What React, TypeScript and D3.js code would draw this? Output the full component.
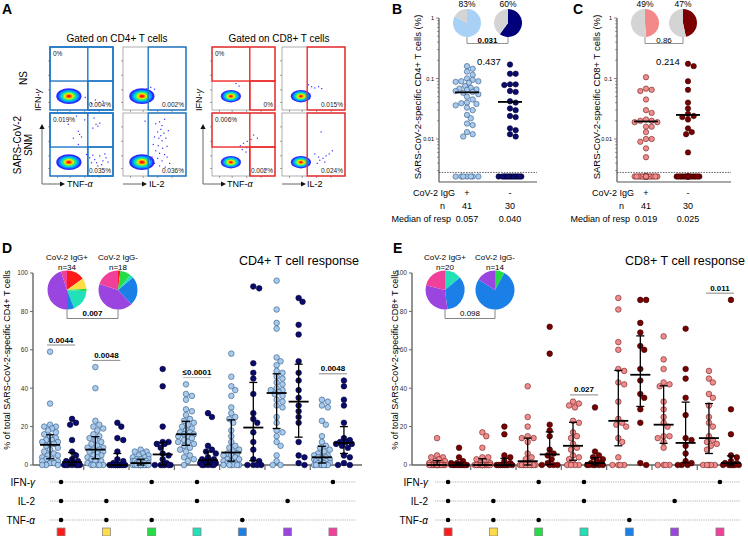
import React from 'react';
import * as d3 from 'd3';

const FONT = '"Liberation Sans", Arial, Helvetica, sans-serif';

// ---------- Panel A: example dot plots ----------
const cd4GateLabels = [['0%', '0.004%', '0.002%'], ['0.019%', '0.035%', '0.036%']];
const cd8GateLabels = [['0%', '0%', '0.015%'], ['0.006%', '0.002%', '0.024%']];
// rare events, as fraction of the plot (x from left, y from bottom)
const cd4NsTnfEvents = [[0.72, 0.16], [0.78, 0.12], [0.66, 0.1], [0.84, 0.14], [0.56, 0.2]];
const cd4NsIl2Events = [[0.38, 0.34], [0.44, 0.36], [0.5, 0.33]];
const cd4SnmTnfEvents = [
  [0.29, 0.82], [0.42, 0.95], [0.45, 0.71], [0.47, 0.66], [0.55, 0.89], [0.6, 0.97], [0.7, 0.92],
  [0.73, 0.82], [0.76, 0.79], [0.79, 0.84], [0.68, 0.76], [0.37, 0.6], [0.45, 0.5], [0.5, 0.62],
  [0.63, 0.29], [0.71, 0.26], [0.74, 0.21], [0.79, 0.32], [0.84, 0.24], [0.89, 0.29], [0.76, 0.16],
  [0.66, 0.21], [0.58, 0.34], [0.6, 0.16], [0.82, 0.18], [0.68, 0.33], [0.87, 0.35], [0.92, 0.22],
];
const cd4SnmIl2Events = [
  [0.52, 0.83], [0.58, 0.86], [0.62, 0.8], [0.6, 0.74], [0.55, 0.7], [0.65, 0.68], [0.5, 0.62],
  [0.57, 0.6], [0.62, 0.56], [0.68, 0.6], [0.48, 0.5], [0.56, 0.48], [0.63, 0.44], [0.7, 0.47],
  [0.52, 0.4], [0.58, 0.36], [0.66, 0.34], [0.46, 0.3], [0.55, 0.28], [0.62, 0.24], [0.7, 0.3],
  [0.5, 0.2], [0.58, 0.16], [0.67, 0.14], [0.74, 0.2], [0.44, 0.26], [0.6, 0.64], [0.66, 0.9],
  [0.35, 0.87], [0.72, 0.72],
];
const cd8NsTnfEvents = [[0.43, 0.38], [0.38, 0.42]];
const cd8NsIl2Events = [[0.42, 0.4], [0.47, 0.37], [0.52, 0.35], [0.58, 0.37], [0.63, 0.34]];
const cd8SnmTnfEvents = [
  [0.45, 0.48], [0.5, 0.52], [0.56, 0.55], [0.62, 0.58], [0.66, 0.65], [0.55, 0.45], [0.48, 0.42],
  [0.6, 0.46], [0.72, 0.6], [0.84, 0.1], [0.54, 0.38],
];
const cd8SnmIl2Events = [
  [0.62, 0.7], [0.52, 0.35], [0.58, 0.3], [0.6, 0.25], [0.65, 0.28], [0.7, 0.32], [0.75, 0.35],
  [0.8, 0.4], [0.56, 0.2], [0.68, 0.22],
];

// ---------- Panels B/C: total response (% of CD4 / CD8), zeros = non responders ----------
const igGroups = ['+', '-'];
const donorsN = [41, 30];
const cd4TotalPos = [
  0.16, 0.145, 0.13, 0.115, 0.1, 0.095, 0.09, 0.09, 0.088, 0.085, 0.075, 0.07, 0.068, 0.066, 0.065,
  0.062, 0.06, 0.058, 0.055, 0.05, 0.045, 0.04, 0.039, 0.038, 0.036, 0.033, 0.03, 0.025, 0.022,
  0.018, 0.017, 0.013, 0.012, 0.011, 0, 0, 0, 0, 0, 0, 0,
];
const cd4TotalNeg = [
  0.17, 0.12, 0.12, 0.08, 0.08, 0.078, 0.062, 0.06, 0.042, 0.04, 0.032, 0.03, 0.024, 0.023, 0.015,
  0.014, 0.011, 0.012, 0, 0, 0, 0, 0, 0, 0, 0, 0, 0, 0, 0,
];
const cd8TotalPos = [
  0.105, 0.068, 0.065, 0.062, 0.045, 0.03, 0.027, 0.021, 0.02, 0.02, 0.019, 0.019, 0.016, 0.016,
  0.013, 0.01, 0.01, 0.009, 0.007, 0.005, 0, 0, 0, 0, 0, 0, 0, 0, 0, 0, 0, 0, 0, 0, 0, 0, 0, 0, 0, 0, 0,
];
const cd8TotalNeg = [
  0.175, 0.16, 0.09, 0.065, 0.04, 0.032, 0.026, 0.024, 0.023, 0.021, 0.015, 0.013, 0.012, 0.006,
  0, 0, 0, 0, 0, 0, 0, 0, 0, 0, 0, 0, 0, 0, 0, 0,
];
const cd4MedianLabels = ['0.057', '0.040'];
const cd8MedianLabels = ['0.019', '0.025'];
const detectionLimit = 0.0028;
const zeroDrawValue = 0.0024;

// ---------- Panels D/E: polyfunctionality, % of total specific response ----------
const comboColors = ['#ff1a1a', '#ffdc45', '#22dd44', '#22e0b8', '#1a80e8', '#9b45e0', '#f0409a'];
const comboIFN = [1, 0, 1, 1, 0, 0, 1];
const comboIL2 = [1, 1, 0, 1, 0, 1, 0];
const comboTNF = [1, 1, 1, 0, 1, 0, 0];

const cd4PolyPos = [
  [59, 32, 21, 20, 20, 19, 18, 17, 16, 15, 14, 13, 13, 12, 12, 11, 11, 10, 9, 8, 7, 6, 5, 5, 4, 3, 3, 2, 2, 1, 1, 0, 0, 0],
  [51, 40, 23, 21, 20, 19, 18, 16, 15, 14, 13, 12, 11, 10, 9, 9, 8, 8, 7, 7, 6, 5, 5, 4, 4, 3, 2, 2, 1, 0, 0, 0, 0, 0],
  [8, 7, 7, 6, 5, 5, 4, 4, 3, 3, 3, 2, 2, 2, 2, 2, 1, 1, 1, 1, 1, 1, 0, 0, 0, 0, 0, 0, 0, 0, 0, 0, 0, 0],
  [42, 37, 36, 34, 29, 28, 26, 24, 23, 22, 21, 20, 19, 18, 17, 17, 16, 16, 15, 15, 14, 13, 12, 12, 11, 10, 9, 8, 7, 5, 4, 3, 2, 0],
  [58, 46, 41, 39, 36, 30, 27, 25, 24, 22, 18, 15, 12, 10, 9, 8, 7, 6, 6, 5, 5, 4, 3, 3, 2, 2, 1, 1, 0, 0, 0, 0, 0, 0],
  [96, 81, 74, 71, 56, 54, 52, 49, 48, 46, 45, 43, 42, 40, 39, 39, 38, 37, 36, 34, 33, 31, 30, 25, 22, 18, 17, 15, 12, 10, 5, 2, 0, 0],
  [34, 33, 31, 30, 23, 21, 15, 12, 10, 9, 8, 7, 6, 5, 5, 4, 4, 4, 3, 3, 3, 2, 2, 2, 1, 1, 1, 0, 0, 0, 0, 0, 0, 0],
];
const cd4PolyNeg = [
  [24, 22, 21, 13, 7, 5, 3, 2, 2, 1, 1, 0, 0, 0, 0, 0, 0, 0],
  [22, 20, 14, 13, 7, 3, 2, 1, 0, 0, 0, 0, 0, 0, 0, 0, 0, 0],
  [50, 41, 20, 12, 12, 11, 11, 9, 6, 5, 3, 1, 0, 0, 0, 0, 0, 0],
  [27, 25, 10, 8, 7, 6, 4, 3, 3, 2, 2, 1, 1, 0, 0, 0, 0, 0],
  [93, 92, 53, 48, 45, 37, 27, 24, 22, 17, 12, 8, 3, 2, 0, 0, 0, 0],
  [87, 85, 73, 68, 54, 48, 44, 39, 35, 31, 28, 25, 22, 12, 5, 4, 1, 0],
  [44, 41, 34, 31, 22, 14, 13, 12, 12, 11, 11, 10, 9, 5, 4, 1, 0, 0],
];
const cd8PolyPos = [
  [14, 5, 4, 4, 3, 2, 2, 1, 1, 0, 0, 0, 0, 0, 0, 0, 0, 0, 0, 0],
  [17, 15, 9, 4, 4, 3, 2, 1, 1, 0, 0, 0, 0, 0, 0, 0, 0, 0, 0, 0],
  [41, 25, 20, 15, 14, 14, 12, 6, 4, 3, 1, 0, 0, 0, 0, 0, 0, 0, 0, 0],
  [33, 32, 31, 30, 23, 22, 17, 15, 14, 11, 9, 8, 5, 4, 3, 1, 0, 0, 0, 0],
  [87, 81, 64, 60, 50, 49, 43, 42, 33, 24, 22, 21, 20, 14, 12, 4, 0, 0, 0, 0],
  [67, 55, 50, 43, 42, 41, 33, 29, 25, 22, 20, 15, 15, 14, 12, 9, 0, 0, 0, 0],
  [49, 45, 43, 37, 35, 31, 25, 22, 20, 15, 13, 12, 11, 10, 8, 0, 0, 0, 0, 0],
];
const cd8PolyNeg = [
  [9, 4, 2, 1, 1, 0, 0, 0, 0, 0, 0, 0, 0, 0],
  [20, 16, 5, 4, 2, 1, 0, 0, 0, 0, 0, 0, 0, 0],
  [72, 58, 21, 18, 15, 8, 6, 5, 3, 1, 0, 0, 0, 0],
  [30, 7, 5, 4, 3, 2, 1, 1, 0, 0, 0, 0, 0, 0],
  [86, 86, 74, 69, 62, 60, 50, 44, 37, 35, 29, 22, 1, 0],
  [71, 50, 45, 35, 26, 14, 13, 10, 6, 2, 1, 0, 0, 0],
  [86, 29, 16, 5, 4, 2, 1, 1, 0, 0, 0, 0, 0, 0],
];
// pie composition (% of responders by profile)
const cd4PiePos = [15, 9, 2, 18, 6, 45, 5];
const cd4PieNeg = [2, 0, 9, 3, 24, 42, 20];
const cd8PiePos = [0, 0, 0, 14, 34, 31, 21];
const cd8PieNeg = [0, 0, 8, 0, 76, 16, 0];
const cd4PieN = [34, 18];
const cd8PieN = [20, 14];
const cd4Sig = [{ cat: 0, label: '0.0044' }, { cat: 1, label: '0.0048' }, { cat: 3, label: '≤0.0001', muted: true }, { cat: 6, label: '0.0048' }];
const cd8Sig = [{ cat: 3, label: '0.027' }, { cat: 6, label: '0.011' }];

// ---------- colours ----------
const LIGHT_BLUE = '#a6cbef', NAVY = '#0b0b6e', PINK = '#f28b8b', DARK_RED = '#780000', GREY_PIE = '#d4d4d4';
const blobColors = ['#2a2aff', '#0090ff', '#00d8d0', '#40f060', '#e8f000', '#ff9000', '#ff1010'];
const blobSteps = [1, 0.82, 0.66, 0.52, 0.4, 0.28, 0.16];

type Pt = { x: number; y: number };

// simple beeswarm: place each point at the nearest free horizontal slot
function swarm(values: number[], yOf: (v: number) => number, cx: number, r: number, maxW: number): Pt[] {
  const placed: Pt[] = [];
  const sorted = values.slice().sort((a, b) => b - a);
  const step = r * 0.7;
  const cands: number[] = [0];
  for (let k = 1; k * step <= maxW; k++) cands.push(k * step, -k * step);
  const need = (2 * r * 0.92) ** 2;
  sorted.forEach(v => {
    const y = yOf(v);
    let best = 0, bestD = -1;
    for (const c of cands) {
      let minD = Infinity;
      placed.forEach(p => {
        const dx = p.x - (cx + c), dy = p.y - y;
        minD = Math.min(minD, dx * dx + dy * dy);
      });
      if (minD >= need) { best = c; break; }
      if (minD > bestD) { bestD = minD; best = c; }
    }
    placed.push({ x: cx + best, y });
  });
  return placed;
}

const Greek = ({ base, g }: { base: string; g: string }) => (
  <>{base}<tspan fontStyle="italic">{g}</tspan></>
);

function FlowPlot({ x0, y0, w, h, kind, color, fullFrame, labels, events, blobR }: any) {
  const fx = d3.scaleLinear().domain([0, 1]).range([x0, x0 + w]);
  const fy = d3.scaleLinear().domain([0, 1]).range([y0 + h, y0]);
  const bx = fx(0.3), by = fy(0.22);
  const vx = fx(0.6), hy = fy(0.46);
  const tickF = [0.12, 0.32, 0.55, 0.78];
  return (
    <g>
      <rect x={x0} y={y0} width={w} height={h} fill="#fff" stroke="#999" strokeWidth={0.8} />
      {tickF.map(t => (
        <g key={t}>
          <line x1={x0 - 2} x2={x0} y1={fy(t)} y2={fy(t)} stroke="#666" strokeWidth={0.6} />
          <line x1={fx(t)} x2={fx(t)} y1={y0 + h} y2={y0 + h + 2} stroke="#666" strokeWidth={0.6} />
        </g>
      ))}
      {blobSteps.map((s, i) => (
        <ellipse key={i} cx={bx} cy={by} rx={w * blobR * s} ry={h * blobR * 0.62 * s} fill={blobColors[i]} />
      ))}
      {events.map((e: number[], i: number) => (
        <rect key={i} x={fx(e[0]) - 0.6} y={fy(e[1]) - 0.6} width={1.2} height={1.2} fill="#3030ff" />
      ))}
      {kind === 'quad' ? (
        <g fill="none" stroke={color} strokeWidth={1.4}>
          {fullFrame && <rect x={x0} y={y0} width={w} height={h} />}
          <rect x={x0} y={y0} width={w} height={hy - y0} />
          <line x1={vx} x2={vx} y1={y0} y2={y0 + h} />
          <rect x={vx} y={hy} width={x0 + w - vx} height={y0 + h - hy} />
        </g>
      ) : (
        <rect x={fx(0.4)} y={y0} width={w * 0.6} height={h} fill="none" stroke={color} strokeWidth={1.4} />
      )}
      {kind === 'quad' && (
        <text x={x0 + 3} y={y0 + 9} fontSize={6.5} fill="#222">{labels[0]}</text>
      )}
      <text x={x0 + w - 2} y={y0 + h - 3} fontSize={6.5} fill="#222" textAnchor="end">
        {kind === 'quad' ? labels[1] : labels[2]}
      </text>
    </g>
  );
}

function Arrow({ x1, y1, x2, y2 }: any) {
  const ang = Math.atan2(y2 - y1, x2 - x1);
  const s = 5;
  const p = [
    [x2, y2],
    [x2 - s * Math.cos(ang) + 2.6 * Math.sin(ang), y2 - s * Math.sin(ang) - 2.6 * Math.cos(ang)],
    [x2 - s * Math.cos(ang) - 2.6 * Math.sin(ang), y2 - s * Math.sin(ang) + 2.6 * Math.cos(ang)],
  ];
  return (
    <g>
      <line x1={x1} y1={y1} x2={x2 - s * Math.cos(ang)} y2={y2 - s * Math.sin(ang)} stroke="#666" strokeWidth={1} />
      <polygon points={p.map(q => q.join(',')).join(' ')} fill="#111" />
    </g>
  );
}

function PanelA() {
  const rows = [47, 113];
  const H = 63;
  const cols = [
    { x: 50, kind: 'quad', g: 'cd4' }, { x: 123, kind: 'il2', g: 'cd4' },
    { x: 212, kind: 'quad', g: 'cd8' }, { x: 282, kind: 'il2', g: 'cd8' },
  ];
  const ev: any = {
    cd4: [[cd4NsTnfEvents, cd4NsIl2Events], [cd4SnmTnfEvents, cd4SnmIl2Events]],
    cd8: [[cd8NsTnfEvents, cd8NsIl2Events], [cd8SnmTnfEvents, cd8SnmIl2Events]],
  };
  return (
    <g>
      <text x={2} y={14} fontSize={14} fontWeight="bold">A</text>
      <text x={117} y={42} fontSize={10} textAnchor="middle">Gated on CD4+ T cells</text>
      <text x={279} y={42} fontSize={10} textAnchor="middle">Gated on CD8+ T cells</text>
      <text transform="translate(27,78) rotate(-90)" fontSize={10} textAnchor="middle">NS</text>
      <text transform="translate(21,145) rotate(-90)" fontSize={10} textAnchor="middle">SARS-CoV-2</text>
      <text transform="translate(32,145) rotate(-90)" fontSize={10} textAnchor="middle">SNM</text>
      {rows.map((y, ri) => cols.map((c, ci) => (
        <FlowPlot key={`${ri}-${ci}`} x0={c.x} y0={y} w={63} h={H} kind={c.kind}
          color={c.g === 'cd4' ? '#1f78c8' : '#ee2a2a'} fullFrame={c.g === 'cd4'}
          labels={(c.g === 'cd4' ? cd4GateLabels : cd8GateLabels)[ri]}
          events={ev[c.g][ri][c.kind === 'quad' ? 0 : 1]} blobR={c.g === 'cd4' ? 0.2 : 0.16} />
      )))}
      {[{ ax: 42, tx: 67 }, { ax: 203, tx: 227 }].map((a, i) => (
        <g key={i} fontSize={9}>
          <Arrow x1={a.ax} y1={184} x2={a.ax} y2={124} />
          <Arrow x1={a.ax} y1={184} x2={a.ax + 23} y2={184} />
          <text x={a.tx} y={187}><Greek base="TNF-" g="α" /></text>
          <text transform={`translate(${a.ax - 1},100) rotate(-90)`} textAnchor="middle"><Greek base="IFN-" g="γ" /></text>
        </g>
      ))}
      {[{ x: 123, tx: 149 }, { x: 282, tx: 307 }].map((a, i) => (
        <g key={i} fontSize={9}>
          <Arrow x1={a.x} y1={184} x2={a.x + 24} y2={184} />
          <text x={a.tx} y={187}>IL-2</text>
        </g>
      ))}
    </g>
  );
}

function pieArcs(vals: number[], r: number) {
  const pie = d3.pie<number>().sort(null).value(d => d);
  const arc = d3.arc<d3.PieArcDatum<number>>().innerRadius(0).outerRadius(r);
  return pie(vals).map(a => ({ d: arc(a) as string, i: a.index }));
}

function LogPanel(p: any) {
  const y = d3.scaleLog().domain([0.01, 1]).range([139, 18]);
  const yAxis = d3.scaleLog().domain([0.002, 1]);
  const yOf = (v: number) => (v > 0 ? y(v) : y(zeroDrawValue));
  const r = 2.7;
  const groups = [p.pos, p.neg];
  const pieR = 14;
  return (
    <g>
      <text x={p.letterX} y={14} fontSize={14} fontWeight="bold">{p.letter}</text>
      <text transform={`translate(${p.yLabelX},97) rotate(-90)`} fontSize={9.5} textAnchor="middle">{p.yLabel}</text>
      {/* axes */}
      <line x1={p.axisX} x2={p.axisX} y1={18} y2={182} stroke="#555" strokeWidth={1.2} />
      <line x1={p.axisX} x2={p.axisR} y1={182} y2={182} stroke="#555" strokeWidth={1.2} />
      {yAxis.ticks().filter(t => t >= 0.0029).map((t, i) => {
        const major = [1, 0.1, 0.01].some(m => Math.abs(m - t) < 1e-9);
        return (
          <g key={i}>
            <line x1={p.axisX - (major ? 3 : 1.8)} x2={p.axisX} y1={y(t)} y2={y(t)} stroke="#555" strokeWidth={0.7} />
            {major && <text x={p.axisX - 5} y={y(t) + 2} fontSize={5.5} textAnchor="end">{String(t)}</text>}
          </g>
        );
      })}
      <line x1={p.axisX} x2={p.axisR} y1={y(detectionLimit)} y2={y(detectionLimit)} stroke="#222" strokeWidth={0.7} strokeDasharray="1.5,1.2" />
      {groups.map((vals: number[], gi: number) => {
        const pts = swarm(vals, yOf, p.centers[gi], r, 12);
        const posVals = vals.filter(v => v > 0);
        const med = d3.median(posVals) as number;
        return (
          <g key={gi}>
            {pts.map((q, i) => (
              <circle key={i} cx={q.x} cy={q.y} r={r} fill={p.fills[gi]} stroke={p.strokes[gi]} strokeWidth={0.6} />
            ))}
            <line x1={p.centers[gi] - 12} x2={p.centers[gi] + 12} y1={y(med)} y2={y(med)} stroke="#000" strokeWidth={1.8} />
          </g>
        );
      })}
      <text x={p.midX} y={65} fontSize={9.5} textAnchor="middle">{p.groupP}</text>
      {/* pies */}
      {groups.map((vals: number[], gi: number) => {
        const pct = vals.filter(v => v > 0).length / vals.length;
        return (
          <g key={gi} transform={`translate(${p.pieCx[gi]},23)`}>
            {pieArcs([pct, 1 - pct], pieR).map(a => (
              <path key={a.i} d={a.d} fill={a.i === 0 ? p.pieColors[gi] : GREY_PIE} />
            ))}
            <text y={-16} fontSize={8.5} textAnchor="middle">{Math.round(pct * 100)}%</text>
          </g>
        );
      })}
      <path d={`M${p.pieCx[0]},37V43.5H${p.pieCx[1]}V37`} fill="none" stroke="#777" strokeWidth={0.8} />
      <text x={(p.pieCx[0] + p.pieCx[1]) / 2} y={42.5} fontSize={8} textAnchor="middle" fontWeight={p.pieBold ? 'bold' : 'normal'}>{p.pieP}</text>
      {/* table under axis */}
      <g fontSize={9}>
        <text x={p.tableR + 6} y={196} textAnchor="end">CoV-2 IgG</text>
        <text x={p.tableR - 4} y={209} textAnchor="end">n</text>
        <text x={p.tableR + 2} y={222} textAnchor="end">Median of resp</text>
        {igGroups.map((g, gi) => (
          <g key={g} textAnchor="middle">
            <text x={p.centers[gi]} y={196}>{g}</text>
            <text x={p.centers[gi]} y={209}>{donorsN[gi]}</text>
            <text x={p.centers[gi]} y={222}>{p.medianLabels[gi]}</text>
          </g>
        ))}
      </g>
    </g>
  );
}

function PolyPanel(p: any) {
  const y = d3.scaleLinear().domain([0, 100]).range([465, 273]);
  const band = d3.scaleBand<number>().domain(d3.range(7)).range([p.bandL, p.bandR]);
  const cx = (i: number) => (band(i) as number) + band.bandwidth() / 2;
  const off = 11;
  const r = 2.8;
  const groups = [p.pos, p.neg];
  const pieR = 19.5;
  const pieCy = 290;
  const rowY = [482, 501, 520];
  const rowSets = [comboIFN, comboIL2, comboTNF];
  return (
    <g>
      <text x={p.letterX} y={253} fontSize={14} fontWeight="bold">{p.letter}</text>
      <text transform={`translate(${p.yLabelX},360) rotate(-90)`} fontSize={9} textAnchor="middle">{p.yLabel}</text>
      <text x={p.titleX} y={265} fontSize={12.5} textAnchor="middle">{p.title}</text>
      {/* axes */}
      <line x1={p.axisX} x2={p.axisX} y1={273} y2={465} stroke="#666" strokeWidth={1.4} />
      <line x1={p.axisX} x2={p.axisR} y1={465} y2={465} stroke="#666" strokeWidth={1.4} />
      {y.ticks(5).map(t => (
        <g key={t}>
          <line x1={p.axisX - 3} x2={p.axisX} y1={y(t)} y2={y(t)} stroke="#666" strokeWidth={1} />
          <text x={p.axisX - 5} y={y(t) + 2.3} fontSize={6.5} textAnchor="end" fill="#333">{t}</text>
        </g>
      ))}
      {d3.range(1, 7).map(i => (
        <line key={i} x1={band(i)} x2={band(i)} y1={465} y2={470} stroke="#666" strokeWidth={1.2} />
      ))}
      {/* points */}
      {groups.map((cats: number[][], gi: number) => cats.map((vals, ci) => {
        const c = cx(ci) + (gi === 0 ? -off : off);
        const pts = swarm(vals, y, c, r, 9);
        return (
          <g key={`${gi}-${ci}`}>
            {pts.map((q, i) => (
              <circle key={i} cx={q.x} cy={q.y} r={r} fill={p.fills[gi]} stroke={p.strokes[gi]} strokeWidth={0.6} />
            ))}
          </g>
        );
      }))}
      {/* median with interquartile range */}
      {groups.map((cats: number[][], gi: number) => cats.map((vals, ci) => {
        const c = cx(ci) + (gi === 0 ? -off : off);
        const s = vals.slice().sort(d3.ascending);
        const med = d3.quantile(s, 0.5) as number, q1 = d3.quantile(s, 0.25) as number, q3 = d3.quantile(s, 0.75) as number;
        return (
          <g key={`e${gi}-${ci}`} stroke="#000">
            <line x1={c} x2={c} y1={y(q1)} y2={y(q3)} strokeWidth={1.3} />
            <line x1={c - 4} x2={c + 4} y1={y(q1)} y2={y(q1)} strokeWidth={1.3} />
            <line x1={c - 4} x2={c + 4} y1={y(q3)} y2={y(q3)} strokeWidth={1.3} />
            <line x1={c - 10} x2={c + 10} y1={y(med)} y2={y(med)} strokeWidth={1.8} />
          </g>
        );
      }))}
      {/* significance */}
      {p.sig.map((s: any) => {
        const top = Math.max(d3.max(p.pos[s.cat] as number[]) as number, d3.max(p.neg[s.cat] as number[]) as number);
        const ly = y(top + 3.5);
        const c = cx(s.cat);
        return (
          <g key={s.cat}>
            <line x1={c - 14} x2={c + 14} y1={ly} y2={ly} stroke={s.muted ? '#bbb' : '#888'} strokeWidth={1} />
            <text x={c} y={ly - 2.5} fontSize={8} fontWeight="bold" textAnchor="middle">{s.label}</text>
          </g>
        );
      })}
      {/* pies */}
      {[p.pieA, p.pieB].map((vals: number[], gi: number) => (
        <g key={gi} transform={`translate(${p.pieCx[gi]},${pieCy})`}>
          {pieArcs(vals, pieR).map(a => <path key={a.i} d={a.d} fill={comboColors[a.i]} />)}
          <text y={-30} fontSize={8} textAnchor="middle">CoV-2 IgG{gi === 0 ? '+' : '-'}</text>
          <text y={-20.5} fontSize={8} textAnchor="middle">n={p.pieN[gi]}</text>
        </g>
      ))}
      <path d={`M${p.pieCx[0]},${pieCy + pieR}V318.5H${p.pieCx[1]}V${pieCy + pieR}`} fill="none" stroke="#777" strokeWidth={0.9} />
      <text x={(p.pieCx[0] + p.pieCx[1]) / 2} y={316} fontSize={8} textAnchor="middle" fontWeight={p.pieBold ? 'bold' : 'normal'}>{p.pieP}</text>
      {/* combination matrix */}
      {rowSets.map((set, ri) => (
        <g key={ri}>
          <line x1={p.matL} x2={p.matR} y1={rowY[ri]} y2={rowY[ri]} stroke="#aaa" strokeWidth={0.9} strokeDasharray="1.2,1" />
          <text x={p.rowLabelX} y={rowY[ri] + 3.5} fontSize={10} textAnchor="end">
            {ri === 0 ? <Greek base="IFN-" g="γ" /> : ri === 1 ? 'IL-2' : <Greek base="TNF-" g="α" />}
          </text>
          {set.map((on, ci) => on ? <circle key={ci} cx={cx(ci)} cy={rowY[ri]} r={2.3} fill="#000" /> : null)}
        </g>
      ))}
      {comboColors.map((col, ci) => (
        <rect key={ci} x={cx(ci) - 4} y={528} width={8} height={8} fill={col} stroke="#888" strokeWidth={0.8} />
      ))}
    </g>
  );
}

export default function App() {
  return (
    <div style={{ position: 'absolute', left: 0, top: 0 }}>
      <svg width={748} height={536} fontFamily={FONT} style={{ display: 'block', background: '#fff' }}>
        <PanelA />
        <LogPanel letter="B" letterX={392} axisX={439} axisR={537} centers={[467, 510]}
          pos={cd4TotalPos} neg={cd4TotalNeg} fills={[LIGHT_BLUE, NAVY]} strokes={['#35557e', '#000030']}
          pieColors={['#a9d0f5', '#00007a']} pieCx={[467, 508]} pieP="0.031" pieBold
          groupP="0.437" midX={489} yLabelX={421} yLabel="SARS-CoV-2-specific  CD4+ T cells (%)"
          tableR={449} medianLabels={cd4MedianLabels} />
        <LogPanel letter="C" letterX={573} axisX={617} axisR={731} centers={[646, 688]}
          pos={cd8TotalPos} neg={cd8TotalNeg} fills={[PINK, DARK_RED]} strokes={['#6b2020', '#300000']}
          pieColors={['#f38888', '#7d0000']} pieCx={[645, 683]} pieP="0.86" pieBold={false}
          groupP="0.214" midX={668} yLabelX={600} yLabel="SARS-CoV-2-specific  CD8+ T cells (%)"
          tableR={628} medianLabels={cd8MedianLabels} />
        <PolyPanel letter="D" letterX={2} yLabelX={10} axisX={33} axisR={362} bandL={38.4} bandR={355.6}
          pos={cd4PolyPos} neg={cd4PolyNeg} fills={[LIGHT_BLUE, NAVY]} strokes={['#35557e', '#000030']}
          pieA={cd4PiePos} pieB={cd4PieNeg} pieN={cd4PieN} pieCx={[67, 118]} pieP="0.007" pieBold
          sig={cd4Sig} title="CD4+ T cell response" titleX={299}
          yLabel="% of total SARS-CoV-2-specific CD4+ T cells" rowLabelX={35} matL={50} matR={356} />
        <PolyPanel letter="E" letterX={393} yLabelX={398} axisX={412} axisR={740} bandL={425.4} bandR={742.6}
          pos={cd8PolyPos} neg={cd8PolyNeg} fills={[PINK, DARK_RED]} strokes={['#6b2020', '#300000']}
          pieA={cd8PiePos} pieB={cd8PieNeg} pieN={cd8PieN} pieCx={[445, 495]} pieP="0.098" pieBold={false}
          sig={cd8Sig} title="CD8+ T cell response" titleX={685}
          yLabel="% of total SARS-CoV-2-specific CD8+ T cells" rowLabelX={428} matL={435} matR={740} />
      </svg>
    </div>
  );
}
